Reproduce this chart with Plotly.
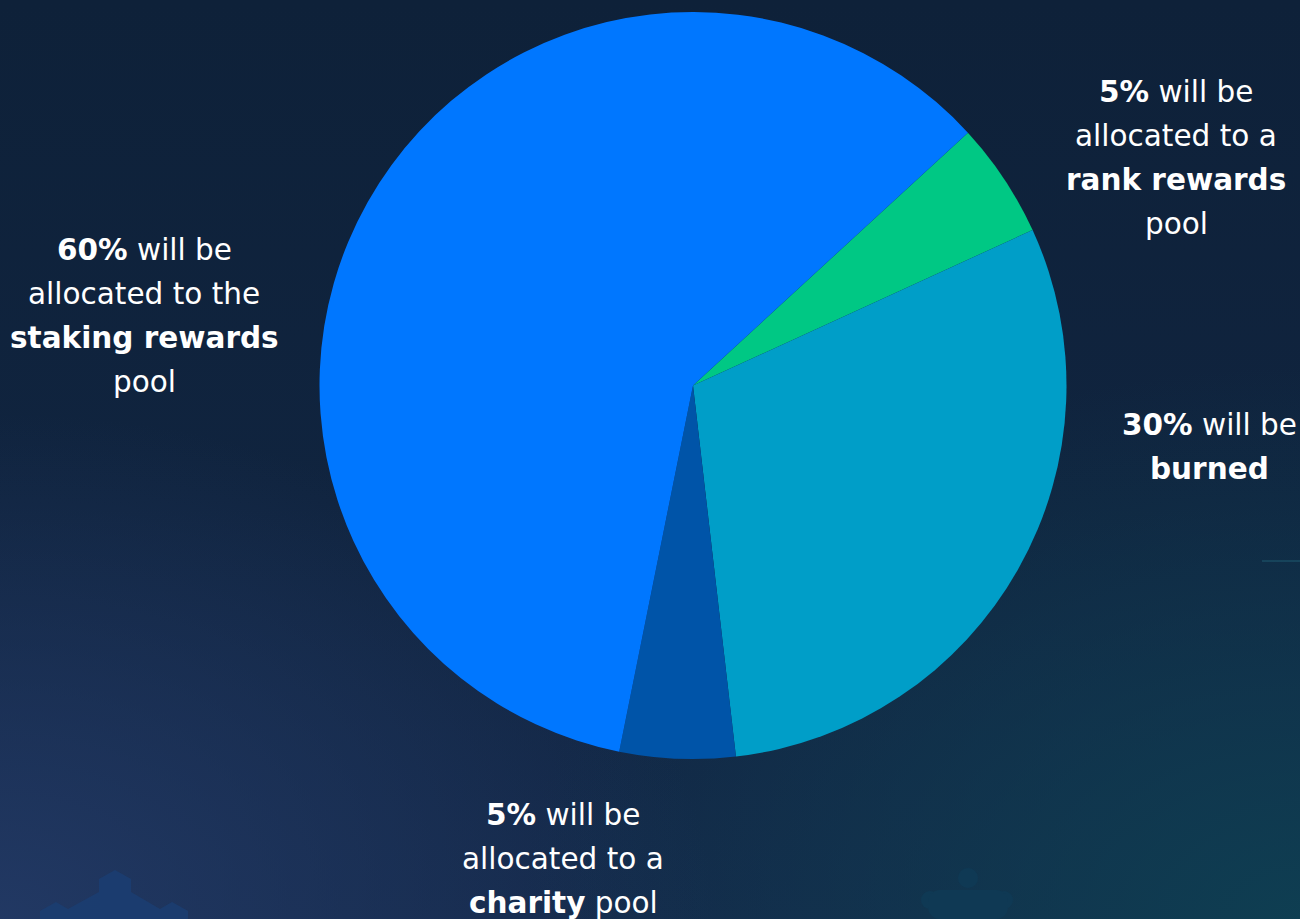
import plotly.graph_objects as go
import base64

categories = ["rank rewards", "burned", "charity", "staking rewards"]
values = [5, 30, 5, 60]
colors = ["#00C884", "#009EC8", "#0054A8", "#0077FF"]

label_lines = {
    "rank rewards": ["<b>5%</b> will be", "allocated to a", "<b>rank rewards</b>", "pool"],
    "burned": ["<b>30%</b> will be", "<b>burned</b>"],
    "charity": ["<b>5%</b> will be", "allocated to a", "<b>charity</b> pool"],
    "staking rewards": ["<b>60%</b> will be", "allocated to the", "<b>staking rewards</b>", "pool"],
}
label_pos = {  # (center x px, first line center y px)
    "rank rewards": (1176, 92),
    "burned": (1209, 425),
    "charity": (563, 815),
    "staking rewards": (144, 250),
}
LINE_H = 44
W, H = 1300, 919

svg = f'''<svg xmlns="http://www.w3.org/2000/svg" width="{W}" height="{H}">
<defs>
<linearGradient id="g1" x1="0" y1="0" x2="0" y2="1">
<stop offset="0" stop-color="#0E2139"/><stop offset="0.55" stop-color="#10243F"/><stop offset="1" stop-color="#14294A"/>
</linearGradient>
<radialGradient id="g2" cx="0" cy="1" r="0.55">
<stop offset="0" stop-color="#233A66" stop-opacity="0.9"/><stop offset="1" stop-color="#233A66" stop-opacity="0"/>
</radialGradient>
<radialGradient id="g3" cx="1" cy="1" r="0.6">
<stop offset="0" stop-color="#0E3F52" stop-opacity="0.95"/><stop offset="1" stop-color="#0E3F52" stop-opacity="0"/>
</radialGradient>
</defs>
<rect width="{W}" height="{H}" fill="url(#g1)"/>
<rect width="{W}" height="{H}" fill="url(#g2)"/>
<rect width="{W}" height="{H}" fill="url(#g3)"/>
<line x1="1262" y1="561" x2="1300" y2="561" stroke="#1F5A70" stroke-width="1"/>
<g fill="#1A3F73" opacity="0.8">
<polygon points="115,870 131,879 131,892 160,909 172,902 188,911 188,919 40,919 40,911 56,902 68,909 99,892 99,879"/>
</g>
<g fill="#0F3A55" opacity="0.9">
<circle cx="968" cy="878" r="10"/><circle cx="930" cy="900" r="9"/><circle cx="1004" cy="900" r="9"/>
<rect x="928" y="890" width="80" height="29" rx="12"/>
</g>
</svg>'''
svg_uri = "data:image/svg+xml;base64," + base64.b64encode(svg.encode()).decode()

fig = go.Figure()
fig.add_trace(go.Pie(
    labels=categories,
    values=values,
    marker=dict(colors=colors, line=dict(width=0)),
    sort=False,
    direction="clockwise",
    rotation=47.4,
    textinfo="none",
    hoverinfo="label+percent",
    showlegend=False,
    domain=dict(x=[(693 - 373.5) / W, (693 + 373.5) / W],
                y=[(H - 759) / H, (H - 12) / H]),
))

annotations = []
for cat in categories:
    cx, cy = label_pos[cat]
    for i, line in enumerate(label_lines[cat]):
        annotations.append(dict(
            text=line, x=cx / W, y=1 - (cy + i * LINE_H) / H,
            xref="paper", yref="paper", xanchor="center", yanchor="middle",
            showarrow=False,
            font=dict(family="DejaVu Sans", size=29.5, color="#FFFFFF"),
        ))

fig.update_layout(
    width=W, height=H,
    margin=dict(l=0, r=0, t=0, b=0),
    paper_bgcolor="#0F233D",
    plot_bgcolor="#0F233D",
    annotations=annotations,
    images=[dict(source=svg_uri, xref="paper", yref="paper", x=0, y=1,
                 sizex=1, sizey=1, xanchor="left", yanchor="top",
                 sizing="stretch", layer="below")],
)

fig.write_html("out.html")
